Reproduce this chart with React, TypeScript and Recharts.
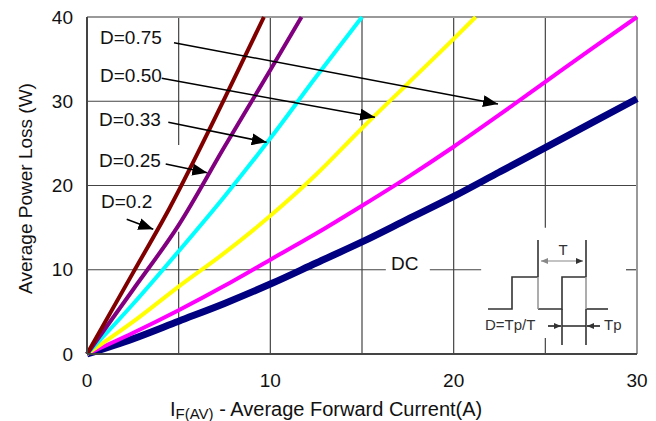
import React from 'react';
import { LineChart, Line, XAxis, YAxis, ReferenceLine } from 'recharts';

// forward current (A) / power loss (W) per duty cycle
const dcI = [0, 2.5, 5, 7.5, 10, 12.5, 15, 17.5, 20, 22.5, 25, 27.5, 30];
const dcP = [0, 1.8, 3.9, 6.0, 8.3, 10.8, 13.3, 16.0, 18.7, 21.6, 24.5, 27.4, 30.3];
const d75I = [0, 2.5, 5, 7.5, 10, 12.5, 15, 17.5, 20, 22.5, 25, 27.5, 30];
const d75P = [0, 2.5, 5.2, 8.1, 11.2, 14.3, 17.6, 21.0, 24.6, 28.4, 32.3, 36.2, 40];
const d50I = [0, 2.5, 5, 7.5, 10, 12.5, 15, 17.5, 20, 21.2];
const d50P = [0, 3.8, 8.0, 12.0, 16.4, 21.3, 26.8, 32.1, 37.4, 40];
const d33I = [0, 2.5, 5, 7.5, 10, 12.5, 15];
const d33P = [0, 5.9, 12.2, 18.7, 25.6, 32.9, 40];
const d25I = [0, 2.5, 5, 7.5, 10, 11.7];
const d25P = [0, 7.6, 15.3, 24.6, 33.7, 40];
const d20I = [0, 2.5, 4.5, 7.5, 9.65];
const d20P = [0, 9.6, 17.3, 30.3, 40];

const xTicks = [0, 10, 20, 30];
const yTicks = [0, 10, 20, 30, 40];

const toRows = (xs: number[], ys: number[]) => xs.map((i, k) => ({ i, p: ys[k] }));

const series = [
  { name: 'DC', data: toRows(dcI, dcP), color: '#000080', width: 7 },
  { name: 'D=0.75', data: toRows(d75I, d75P), color: '#ff00ff', width: 4 },
  { name: 'D=0.50', data: toRows(d50I, d50P), color: '#ffff00', width: 4 },
  { name: 'D=0.33', data: toRows(d33I, d33P), color: '#00ffff', width: 4 },
  { name: 'D=0.25', data: toRows(d25I, d25P), color: '#800080', width: 4 },
  { name: 'D=0.2', data: toRows(d20I, d20P), color: '#800000', width: 4 },
];

// grid pieces, with the gaps left where the labels and the inset sit
const gridSegs: [number, number, number, number][] = [
  [5, 0, 5, 14.5], [5, 24.8, 5, 40],
  [10, 0, 10, 40], [15, 0, 15, 40], [20, 0, 20, 40],
  [25, 0, 25, 1.9], [25, 15.0, 25, 40],
  [0, 10, 16.3, 10], [18.7, 10, 21.5, 10], [29.4, 10, 30, 10],
  [0, 20, 30, 20], [0, 30, 30, 30],
];

const gridColor = '#444';
const textColor = '#111';

const Arrow = ({ x1, y1, x2, y2 }: { x1: number; y1: number; x2: number; y2: number }) => (
  <line x1={x1} y1={y1} x2={x2} y2={y2} stroke="#000" strokeWidth={1.5} markerEnd="url(#head)" />
);

const Inset = () => (
  <g>
    <g stroke="#333" strokeWidth={1.6} fill="none">
      <polyline points="488,309 512,309 512,277 538,277" />
      <polyline points="538,309 562,309 562,277 586,277" />
      <line x1={586} y1={309} x2={608} y2={309} />
      <line x1={538} y1={240} x2={538} y2={277} />
      <line x1={586} y1={240} x2={586} y2={277} />
      <line x1={562} y1={309} x2={562} y2={345} />
      <line x1={586} y1={309} x2={586} y2={345} />
      <line x1={562} y1={326} x2={586} y2={326} />
    </g>
    <g stroke="#999" strokeWidth={1.6}>
      <line x1={538} y1={277} x2={538} y2={309} />
      <line x1={586} y1={277} x2={586} y2={309} />
    </g>
    <line x1={541} y1={261} x2={583} y2={261} stroke="#888" strokeWidth={1.2} markerStart="url(#small2)" markerEnd="url(#small)" />
    <line x1={548} y1={326} x2={561} y2={326} stroke="#111" strokeWidth={1.5} markerEnd="url(#small)" />
    <line x1={600} y1={326} x2={587} y2={326} stroke="#111" strokeWidth={1.5} markerEnd="url(#small)" />
    <text x={563} y={255} textAnchor="middle" fontSize={15} fill="#333">T</text>
    <text x={485} y={330} fontSize={15} fill="#333">D=Tp/T</text>
    <text x={604} y={330} fontSize={15} fill="#333">Tp</text>
  </g>
);

export default function App() {
  return (
    <div style={{ position: 'relative', width: 656, height: 421, margin: '-8px 0 0 -8px', background: '#fff', fontFamily: '"Liberation Sans", Arial, sans-serif' }}>
      <LineChart width={656} height={421} margin={{ top: 17, right: 19, left: 0, bottom: 0 }}>
        <XAxis
          dataKey="i"
          type="number"
          domain={[0, 30]}
          ticks={xTicks}
          height={67}
          tickSize={0}
          tickMargin={20}
          tick={{ fill: textColor, fontSize: 19 }}
          axisLine={{ stroke: gridColor, strokeWidth: 2 }}
        />
        <YAxis
          type="number"
          domain={[0, 40]}
          ticks={yTicks}
          width={87}
          tickSize={0}
          tickMargin={14}
          tick={{ fill: textColor, fontSize: 19 }}
          axisLine={{ stroke: gridColor, strokeWidth: 2 }}
        />
        {gridSegs.map(([xa, ya, xb, yb], k) => (
          <ReferenceLine key={k} segment={[{ x: xa, y: ya }, { x: xb, y: yb }]} stroke={gridColor} strokeWidth={1.2} />
        ))}
        <ReferenceLine y={40} stroke="#999" strokeWidth={2} />
        <ReferenceLine x={30} stroke="#999" strokeWidth={2} />
        {series.map(s => (
          <Line
            key={s.name}
            data={s.data}
            dataKey="p"
            type="monotone"
            stroke={s.color}
            strokeWidth={s.width}
            dot={false}
            isAnimationActive={false}
          />
        ))}
      </LineChart>
      <svg width={656} height={421} style={{ position: 'absolute', left: 0, top: 0, pointerEvents: 'none' }}>
        <defs>
          <marker id="head" markerUnits="userSpaceOnUse" markerWidth={15} markerHeight={12} refX={15} refY={6} orient="auto">
            <path d="M0,0 L15,6 L0,12 Z" fill="#000" />
          </marker>
          <marker id="small" markerUnits="userSpaceOnUse" markerWidth={7} markerHeight={6} refX={7} refY={3} orient="auto">
            <path d="M0,0 L7,3 L0,6 Z" fill="#333" />
          </marker>
          <marker id="small2" markerUnits="userSpaceOnUse" markerWidth={7} markerHeight={6} refX={0} refY={3} orient="auto">
            <path d="M7,0 L0,3 L7,6 Z" fill="#888" />
          </marker>
        </defs>
        <g fill={textColor} fontSize={19}>
          <text x={100} y={43.5}>D=0.75</text>
          <text x={100} y={82}>D=0.50</text>
          <text x={99} y={126}>D=0.33</text>
          <text x={99} y={167}>D=0.25</text>
          <text x={101} y={208}>D=0.2</text>
          <text x={391} y={270}>DC</text>
        </g>
        <Arrow x1={174} y1={42.7} x2={498} y2={104} />
        <Arrow x1={161.7} y1={78.3} x2={375} y2={117.3} />
        <Arrow x1={168.3} y1={122.3} x2={266.7} y2={142.3} />
        <Arrow x1={165.7} y1={164} x2={207.3} y2={172.7} />
        <Arrow x1={126.7} y1={219.3} x2={153.3} y2={229.3} />
        <Inset />
        <text transform="translate(31.5,188.5) rotate(-90)" textAnchor="middle" fontSize={19} fill={textColor}>
          Average Power Loss (W)
        </text>
        <text x={170} y={416} fontSize={20} fill={textColor}>
          I<tspan fontSize={15} dy={3}>F(AV)</tspan><tspan dy={-3}> - Average Forward Current(A)</tspan>
        </text>
      </svg>
    </div>
  );
}
